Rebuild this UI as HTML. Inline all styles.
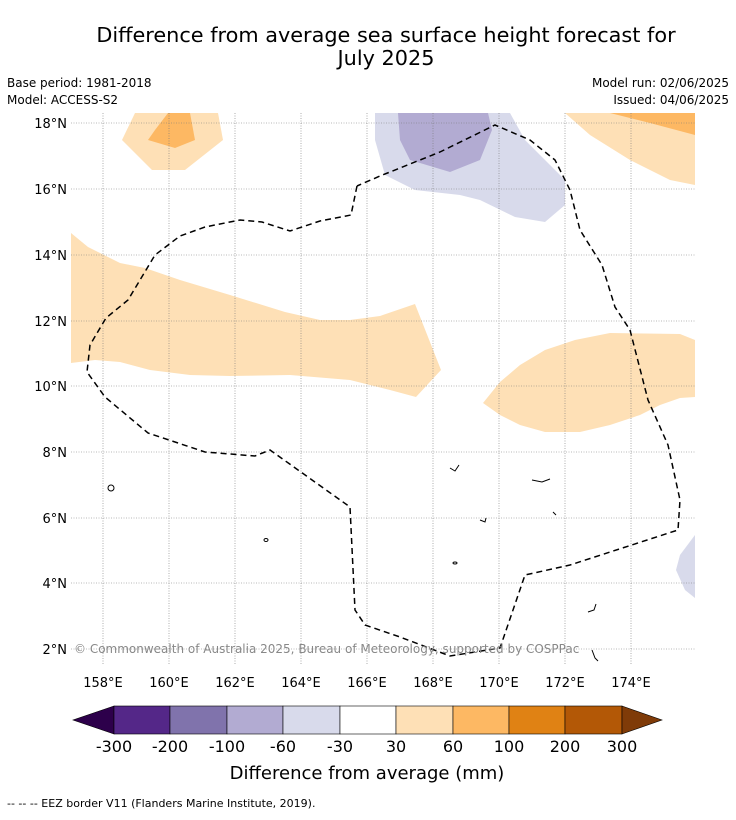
<!DOCTYPE html>
<html><head><meta charset="utf-8"><style>
body{margin:0;background:#fff;font-family:"DejaVu Sans","Liberation Sans",sans-serif;}
svg text{font-family:"DejaVu Sans","Liberation Sans",sans-serif;}
</style></head><body>
<svg width="736" height="816" xmlns="http://www.w3.org/2000/svg">
<rect width="736" height="816" fill="#fff"/>
<text x="386" y="42" font-size="20.8" text-anchor="middle">Difference from average sea surface height forecast for</text>
<text x="386" y="65" font-size="20.8" text-anchor="middle">July 2025</text>
<text x="7" y="87" font-size="12">Base period: 1981-2018</text>
<text x="7" y="104" font-size="12">Model: ACCESS-S2</text>
<text x="729" y="87" font-size="12" text-anchor="end">Model run: 02/06/2025</text>
<text x="729" y="104" font-size="12" text-anchor="end">Issued: 04/06/2025</text>
<defs><clipPath id="mc"><rect x="71" y="113" width="624" height="552"/></clipPath></defs>
<g clip-path="url(#mc)">
<g stroke="none">
<polygon fill="#fee0b6" points="71,233 88,247 120,263 145,268 180,280 230,295 285,312 320,320 350,320 380,316 415,304 441,370 416,397 390,390 350,380 290,375 230,376 190,375 150,370 120,362 95,360 71,363"/>
<polygon fill="#fee0b6" points="483,403 500,382 520,365 545,350 575,340 610,333 680,334 695,340 695,397 680,398 660,405 640,415 610,425 580,432 545,432 520,425 500,415"/>
<polygon fill="#fee0b6" points="122,140 152,170 185,170 223,140 218,113 135,113"/>
<polygon fill="#fdb863" points="148,140 175,148 195,140 190,113 168,113 155,130"/>
<polygon fill="#fee0b6" points="565,113 590,135 630,160 670,180 695,185 695,113"/>
<polygon fill="#fdb863" points="610,113 650,123 695,135 695,113"/>
<polygon fill="#d8daeb" points="375,113 375,140 385,175 415,190 460,195 480,200 515,217 545,222 565,205 565,180 525,140 510,113"/>
<polygon fill="#b2abd2" points="398,113 400,140 410,160 450,172 480,160 492,130 488,113"/>
<polygon fill="#d8daeb" points="695,535 680,555 676,570 685,590 695,598"/>
</g>
<g stroke="#777" stroke-width="0.6" stroke-dasharray="1,1.5">
<line x1="103" y1="113" x2="103" y2="665"/><line x1="169" y1="113" x2="169" y2="665"/><line x1="235" y1="113" x2="235" y2="665"/><line x1="301" y1="113" x2="301" y2="665"/><line x1="367" y1="113" x2="367" y2="665"/><line x1="433" y1="113" x2="433" y2="665"/><line x1="499" y1="113" x2="499" y2="665"/><line x1="565" y1="113" x2="565" y2="665"/><line x1="631" y1="113" x2="631" y2="665"/>
<line x1="71" y1="123" x2="695" y2="123"/><line x1="71" y1="189" x2="695" y2="189"/><line x1="71" y1="255" x2="695" y2="255"/><line x1="71" y1="321" x2="695" y2="321"/><line x1="71" y1="386" x2="695" y2="386"/><line x1="71" y1="452" x2="695" y2="452"/><line x1="71" y1="518" x2="695" y2="518"/><line x1="71" y1="583" x2="695" y2="583"/><line x1="71" y1="649" x2="695" y2="649"/>
</g>
<polyline fill="none" stroke="#000" stroke-width="1.5" stroke-dasharray="6,4" points="357,186 351,215 320,221 290,231 262,222 240,220 205,227 180,236 155,255 128,300 106,318 90,345 87,372 105,397 148,433 205,452 255,456 270,450 350,507 355,610 365,625 400,637 450,656 500,648 525,575 570,565 678,530 680,500 668,445 648,400 630,330 615,307 602,265 580,230 570,190 555,160 530,140 495,125 440,152 380,176 357,186"/>
<g fill="none" stroke="#000" stroke-width="1">
<ellipse cx="111" cy="488" rx="3" ry="3"/><ellipse cx="266" cy="540" rx="2" ry="1.5"/><path d="M450,468 l5,3 l4,-6"/><path d="M532,480 l10,2 l8,-3"/><path d="M588,612 l6,-2 l2,-6"/><path d="M592,650 l3,8 l3,3"/><ellipse cx="455" cy="563" rx="2" ry="1"/><path d="M480,520 l5,2 l1,-4"/><path d="M553,512 l3,3"/>
</g>
<text x="74" y="653" font-size="12" fill="#888">© Commonwealth of Australia 2025, Bureau of Meteorology, supported by COSPPac</text>
</g>
<g font-size="13" text-anchor="end">
<text x="67" y="128">18°N</text><text x="67" y="194">16°N</text><text x="67" y="260">14°N</text><text x="67" y="326">12°N</text><text x="67" y="391">10°N</text><text x="67" y="457">8°N</text><text x="67" y="523">6°N</text><text x="67" y="588">4°N</text><text x="67" y="654">2°N</text>
</g>
<g font-size="13" text-anchor="middle">
<text x="103" y="687">158°E</text><text x="169" y="687">160°E</text><text x="235" y="687">162°E</text><text x="301" y="687">164°E</text><text x="367" y="687">166°E</text><text x="433" y="687">168°E</text><text x="499" y="687">170°E</text><text x="565" y="687">172°E</text><text x="631" y="687">174°E</text>
</g>
<g stroke="#000" stroke-width="0.6">
<polygon points="114,706 73,720 114,734" fill="#2d004b"/>
<rect x="114" y="706" width="56" height="28" fill="#542788"/>
<rect x="170" y="706" width="57" height="28" fill="#8073ac"/>
<rect x="227" y="706" width="56" height="28" fill="#b2abd2"/>
<rect x="283" y="706" width="57" height="28" fill="#d8daeb"/>
<rect x="340" y="706" width="56" height="28" fill="#ffffff"/>
<rect x="396" y="706" width="57" height="28" fill="#fee0b6"/>
<rect x="453" y="706" width="56" height="28" fill="#fdb863"/>
<rect x="509" y="706" width="56" height="28" fill="#e08214"/>
<rect x="565" y="706" width="57" height="28" fill="#b35806"/>
<polygon points="622,706 662,720 622,734" fill="#7f3b08"/>
</g>
<g font-size="16" text-anchor="middle">
<text x="114" y="752">-300</text><text x="170" y="752">-200</text><text x="227" y="752">-100</text><text x="283" y="752">-60</text><text x="340" y="752">-30</text><text x="396" y="752">30</text><text x="453" y="752">60</text><text x="509" y="752">100</text><text x="565" y="752">200</text><text x="622" y="752">300</text>
</g>
<text x="367" y="779" font-size="18" text-anchor="middle">Difference from average (mm)</text>
<text x="7" y="807" font-size="11">-- -- -- EEZ border V11 (Flanders Marine Institute, 2019).</text>
</svg>
</body></html>
